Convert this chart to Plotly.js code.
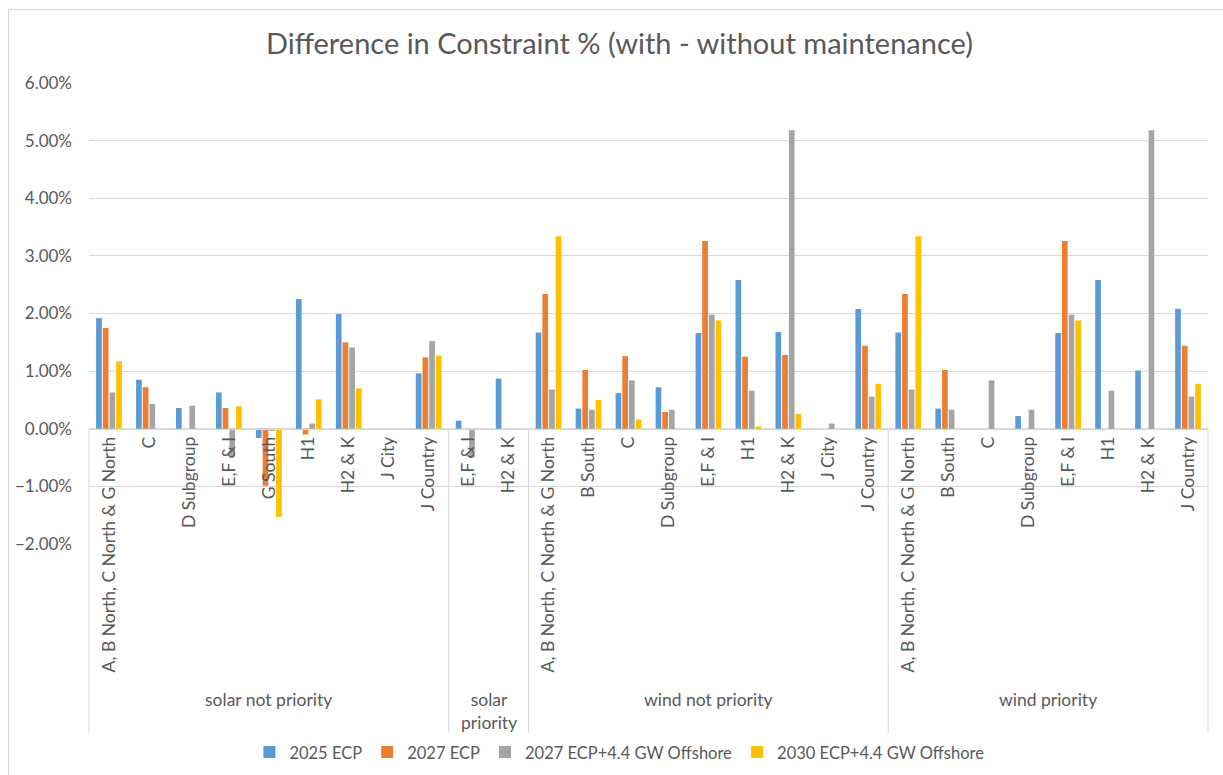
<!DOCTYPE html>
<html>
<head>
<meta charset="utf-8">
<script src="https://cdn.plot.ly/plotly-3.0.1.min.js"></script>
<style>
  html, body { margin: 0; padding: 0; background: #fff; }
  #wrap { position: relative; width: 1223px; height: 775px; overflow: hidden; }
  #chart { position: absolute; left: 0; top: 0; width: 1223px; height: 775px; }
  #frame { position: absolute; left: 8px; top: 9px; width: 1300px; height: 900px;
           border: 1px solid #D9D9D9; pointer-events: none; }
</style>
</head>
<body>
<div id="wrap"><div id="chart"></div><div id="frame"></div></div>
<script>
// ---- data ----
const groupNames = ['solar not priority', 'solar<br>priority', 'wind not priority', 'wind priority'];
const solarNotPriority = ['A, B North, C North & G North', 'C', 'D Subgroup', 'E,F & I', 'G South', 'H1', 'H2 & K', 'J City', 'J Country'];
const solarPriority = ['E,F & I', 'H2 & K'];
const windNotPriority = ['A, B North, C North & G North', 'B South', 'C', 'D Subgroup', 'E,F & I', 'H1', 'H2 & K', 'J City', 'J Country'];
const windPriority = ['A, B North, C North & G North', 'B South', 'C', 'D Subgroup', 'E,F & I', 'H1', 'H2 & K', 'J Country'];

const seriesNames = ['2025 ECP', '2027 ECP', '2027 ECP+4.4 GW Offshore', '2030 ECP+4.4 GW Offshore'];
const seriesColors = ['#5B9BD5', '#ED7D31', '#A5A5A5', '#FFC000'];

const ecp2025 = [
  0.0192, 0.0085, 0.0036, 0.0063, -0.0016, 0.0225, 0.0199, 0, 0.0096,
  0.0014, 0.0087,
  0.0167, 0.0035, 0.0062, 0.0072, 0.0166, 0.0258, 0.0168, 0, 0.0208,
  0.0167, 0.0035, 0, 0.0022, 0.0166, 0.0258, 0.0101, 0.0208
];
const ecp2027 = [
  0.0175, 0.0072, 0, 0.0036, -0.0099, -0.0010, 0.0150, 0, 0.0124,
  0, 0,
  0.0234, 0.0102, 0.0126, 0.0029, 0.0326, 0.0125, 0.0128, 0, 0.0144,
  0.0234, 0.0102, 0, 0, 0.0326, 0, 0, 0.0144
];
const ecp2027Offshore = [
  0.0063, 0.0043, 0.0040, -0.0048, -0.0004, 0.0009, 0.0141, 0, 0.0152,
  -0.0050, 0,
  0.0068, 0.0033, 0.0084, 0.0033, 0.0198, 0.0066, 0.0518, 0.0009, 0.0056,
  0.0068, 0.0033, 0.0084, 0.0033, 0.0198, 0.0066, 0.0518, 0.0056
];
const ecp2030Offshore = [
  0.0117, 0, 0, 0.0039, -0.0153, 0.0051, 0.0070, 0, 0.0127,
  0, 0,
  0.0334, 0.0050, 0.0016, 0, 0.0188, 0.0004, 0.0026, 0, 0.0078,
  0.0334, 0, 0, 0, 0.0188, 0, 0, 0.0078
];

// ---- build ----
const groupCats = [solarNotPriority, solarPriority, windNotPriority, windPriority];
const categories = [].concat(...groupCats);
const idx = categories.map((_, i) => i);
const N = categories.length;
const seriesValues = [ecp2025, ecp2027, ecp2027Offshore, ecp2030Offshore];

const FONT = 'Lato, "Open Sans", sans-serif';
const TXT = '#595959';
const GRID = '#D9D9D9';

const yMin = -0.02, yMax = 0.06;
const zeroFrac = (0 - yMin) / (yMax - yMin);

const traces = seriesNames.map((name, s) => ({
  type: 'bar',
  name: name,
  x: idx,
  y: seriesValues[s],
  marker: { color: seriesColors[s], line: { width: 0 } },
  hoverinfo: 'x+y+name'
}));

// group boundaries & labels
const shapes = [];
const annotations = [];
let start = 0;
const lineBottom = -0.41;
shapes.push({ type: 'line', xref: 'paper', yref: 'paper', x0: 0, x1: 0, y0: zeroFrac, y1: lineBottom,
  line: { color: GRID, width: 1 } });
groupCats.forEach((cats, g) => {
  const end = start + cats.length;
  shapes.push({ type: 'line', xref: 'paper', yref: 'paper', x0: end / N, x1: end / N, y0: zeroFrac, y1: lineBottom,
    line: { color: GRID, width: 1 } });
  annotations.push({ xref: 'paper', yref: 'paper', x: (start + end) / 2 / N, y: -0.31,
    xanchor: 'center', yanchor: 'top', showarrow: false, text: groupNames[g],
    font: { family: FONT, size: 17.5, color: TXT } });
  start = end;
});

const layout = {
  width: 1223, height: 775,
  paper_bgcolor: 'rgba(0,0,0,0)', plot_bgcolor: 'rgba(0,0,0,0)',
  margin: { l: 89, r: 15, t: 83, b: 231, autoexpand: false },
  title: { text: 'Difference in Constraint % (with - without maintenance)',
    font: { family: FONT, size: 29, color: TXT },
    xref: 'container', x: 0.5065, xanchor: 'center', yref: 'container', y: 0.944, yanchor: 'middle' },
  barmode: 'group', bargap: 0.33, bargroupgap: 0.15,
  font: { family: FONT, color: TXT },
  xaxis: {
    anchor: 'free', position: zeroFrac, automargin: false,
    range: [-0.5, N - 0.5],
    tickmode: 'array', tickvals: idx, ticktext: categories,
    tickangle: -90, ticks: '', showgrid: false, zeroline: false,
    showline: true, linecolor: GRID, linewidth: 1,
    tickfont: { family: FONT, size: 17.5, color: TXT }
  },
  yaxis: {
    range: [yMin, yMax], dtick: 0.01, tickformat: '.2%', automargin: false,
    showgrid: true, gridcolor: GRID, gridwidth: 1, zeroline: false, showline: false,
    ticks: '', ticklabelstandoff: 16,
    tickfont: { family: FONT, size: 17, color: TXT }
  },
  legend: { orientation: 'h', x: 0.474, xanchor: 'center', y: -0.452, yanchor: 'middle',
    font: { family: FONT, size: 16.5, color: TXT }, itemwidth: 30, traceorder: 'normal' },
  shapes: shapes,
  annotations: annotations,
  showlegend: true
};

Plotly.newPlot('chart', traces, layout, { displayModeBar: false, responsive: false });
</script>
</body>
</html>
